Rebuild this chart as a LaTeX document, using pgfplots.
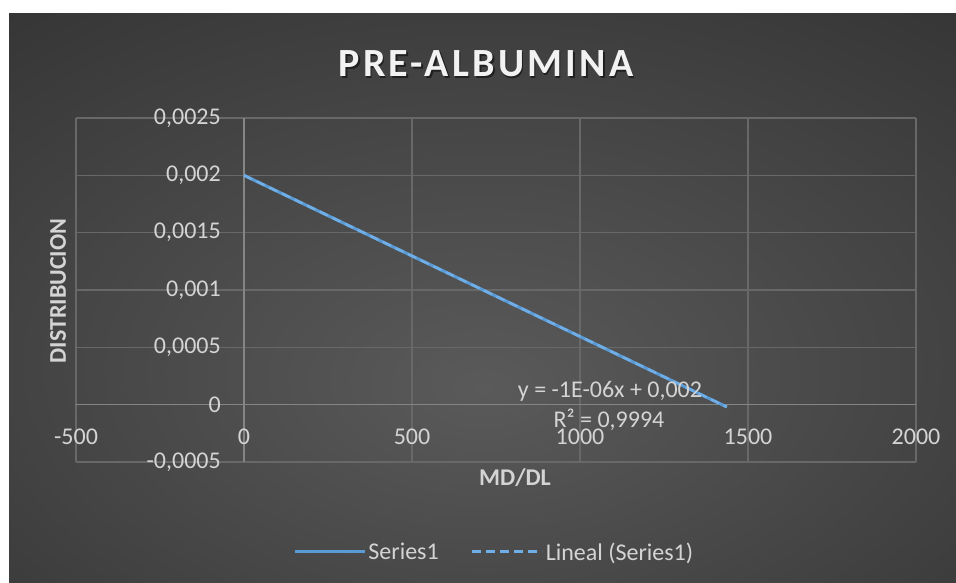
\documentclass[border=0pt]{standalone}
\usepackage{fontspec}
\setmainfont{Carlito}
\usepackage{pgfplots}
\pgfplotsset{compat=1.18}
\definecolor{bgin}{HTML}{5A5A5A}
\definecolor{bgout}{HTML}{272727}
\definecolor{gridc}{HTML}{686868}
\definecolor{axc}{HTML}{858585}
\definecolor{txt}{HTML}{D4D4D4}
\definecolor{ser}{HTML}{5B9BD5}
\definecolor{trend}{HTML}{6FAEE6}
\pgfdeclareradialshading{bgrad}{\pgfpoint{0bp}{-8bp}}{color(0bp)=(bgin); color(55bp)=(bgout); color(90bp)=(bgout)}
\newcommand\tf{\fontsize{24}{28}\selectfont}
\begin{document}
\begin{tikzpicture}[x=1pt,y=1pt]
\useasboundingbox (0,0) rectangle (956,582);
\fill[white] (0,0) rectangle (956,582);
\shade[shading=bgrad] (9,0) rectangle (956,568);
\begin{axis}[
  at={(76pt,120pt)}, anchor=south west, scale only axis,
  width=840pt, height=344pt,
  xmin=-500, xmax=2000, ymin=-0.0005, ymax=0.0025,
  axis lines=middle, axis line style={draw=axc, line width=1.5pt, -},
  hide obscured x ticks=false, hide obscured y ticks=false,
  xtick={-500,0,500,1000,1500,2000},
  xticklabels={-500,0,500,1000,1500,2000},
  ytick={-0.0005,0,0.0005,0.001,0.0015,0.002,0.0025},
  yticklabels={{-0,0005},{0},{0,0005},{0,001},{0,0015},{0,002},{0,0025}},
  scaled y ticks=false, scaled x ticks=false,
  major tick length=0pt,
  grid=major, grid style={draw=gridc, line width=1.3pt},
  xticklabel style={font=\tf, text=txt, anchor=north, inner sep=0pt, yshift=-24pt},
  yticklabel style={font=\tf, text=txt, anchor=east, inner sep=0pt, xshift=-23pt},
  clip=false,
  legend style={at={(0.498,-0.2616)}, anchor=center, draw=none, fill=none,
    font=\tf, text=txt, legend columns=2,
    /tikz/every even column/.append style={column sep=30pt}},
  legend image code/.code={\draw[#1, line width=3pt] (0pt,0pt) -- (70pt,0pt);},
]
\addplot[ser, line width=3pt] coordinates {(0,0.002) (1437,-0.00002)};
\addlegendentry{Series1}
\addplot[trend, line width=2.6pt, dash pattern=on 9pt off 5pt] coordinates {(0,0.002) (1437,-0.00002)};
\addlegendentry{Lineal (Series1)}
\end{axis}
\node[text=txt, font=\tf] at (610,191) {y = -1E-06x + 0,002};
\node[text=txt, font=\tf] at (609,162) {R² = 0,9994};
\node[text=black, opacity=0.5, font=\fontsize{40}{46}\selectfont\bfseries\addfontfeature{LetterSpace=8}] at (487.5,516.5) {PRE-ALBUMINA};
\node[text=white!95!black, font=\fontsize{40}{46}\selectfont\bfseries\addfontfeature{LetterSpace=8}] at (486,518) {PRE-ALBUMINA};
\node[text=txt, font=\fontsize{24}{28}\selectfont\bfseries, rotate=90] at (58,291) {DISTRIBUCION};
\node[text=txt, font=\fontsize{24}{28}\selectfont\bfseries] at (515,104) {MD/DL};
\end{tikzpicture}
\end{document}
